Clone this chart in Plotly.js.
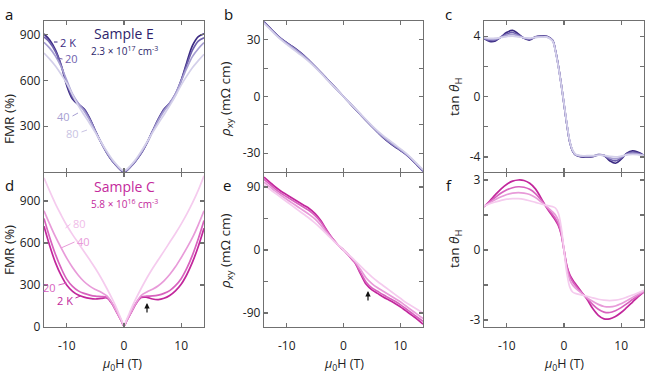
<!DOCTYPE html>
<html><head><meta charset="utf-8">
<script src="https://cdn.plot.ly/plotly-3.0.1.min.js"></script>
<style>html,body{margin:0;padding:0;background:#fff}#chart{width:646px;height:374px}</style>
</head><body><div id="chart"></div>
<script>
// Magnetic field grid (T)
const H = [-14,-13,-12,-11,-10,-9,-8,-7,-6,-5,-4,-3,-2,-1.5,-1,-0.5,0,0.5,1,1.5,2,3,4,5,6,7,8,9,10,11,12,13,14];
const temps = ['2 K','20 K','40 K','80 K'];

// (a) Sample E FMR (%)
const a2  = [905,865,800,700,565,478,442,415,352,268,192,125,70,48,28,10,2,10,28,48,70,122,190,268,346,412,450,505,600,720,830,888,906];
const a20 = [885,850,790,700,580,490,448,412,350,268,192,126,71,49,29,11,3,11,29,49,71,124,190,268,345,410,452,512,600,705,800,858,880];
const a40 = [850,812,760,690,600,510,450,402,340,265,193,128,74,52,32,14,5,14,32,52,74,127,193,265,338,400,450,512,595,682,758,808,848];
const a80 = [780,740,695,640,580,505,435,375,318,258,195,135,80,57,36,18,10,18,36,57,80,135,195,258,318,375,435,500,570,630,685,730,772];

// (b) Sample E rho_xy (mOhm cm)
const b2  = [39.6,36.5,33.4,30.6,28.5,26.5,24.3,21.8,18.9,15.9,12.8,9.6,6.4,4.8,3.2,1.6,0,-1.6,-3.2,-4.8,-6.4,-9.6,-12.8,-15.9,-18.9,-21.8,-24.3,-26.5,-28.5,-30.6,-33.4,-36.5,-39.6];
const b20 = [39.4,36.3,33.3,30.6,28.4,26.3,24.1,21.6,18.8,15.8,12.7,9.5,6.35,4.75,3.2,1.6,0,-1.6,-3.2,-4.75,-6.35,-9.5,-12.7,-15.8,-18.8,-21.6,-24.1,-26.3,-28.4,-30.6,-33.3,-36.3,-39.4];
const b40 = [39.2,36.1,33.1,30.4,28.1,26.0,23.8,21.4,18.7,15.7,12.6,9.45,6.3,4.7,3.15,1.58,0,-1.58,-3.15,-4.7,-6.3,-9.45,-12.6,-15.7,-18.7,-21.4,-23.8,-26.0,-28.1,-30.4,-33.1,-36.1,-39.2];
const b80 = [38.8,35.8,32.8,30.0,27.6,25.3,23.0,20.7,18.2,15.4,12.4,9.3,6.2,4.65,3.1,1.55,0,-1.55,-3.1,-4.65,-6.2,-9.3,-12.4,-15.4,-18.2,-20.7,-23.0,-25.3,-27.6,-30.0,-32.8,-35.8,-38.8];

// (c) Sample E tan(theta_H)
const c2  = [3.84,3.65,3.68,3.95,4.25,4.38,4.15,3.85,3.74,3.95,4.0,3.99,3.72,3.05,2.05,0.85,-0.5,-1.85,-3.0,-3.6,-3.87,-4.0,-4.0,-3.98,-3.85,-3.9,-4.25,-4.42,-4.15,-3.75,-3.6,-3.7,-3.9];
const c20 = [3.86,3.72,3.75,3.94,4.15,4.24,4.08,3.87,3.79,3.94,3.98,3.97,3.72,3.05,2.05,0.85,-0.5,-1.85,-3.0,-3.6,-3.86,-3.97,-3.97,-3.96,-3.87,-3.9,-4.15,-4.26,-4.08,-3.8,-3.69,-3.76,-3.9];
const c40 = [3.87,3.79,3.80,3.92,4.06,4.12,4.01,3.88,3.83,3.92,3.95,3.95,3.70,3.02,2.02,0.83,-0.48,-1.82,-2.97,-3.57,-3.84,-3.95,-3.95,-3.94,-3.88,-3.9,-4.06,-4.13,-4.01,-3.83,-3.77,-3.81,-3.9];
const c80 = [3.89,3.85,3.86,3.91,3.97,4.0,3.95,3.89,3.87,3.91,3.93,3.93,3.68,3.0,2.0,0.82,-0.45,-1.8,-2.93,-3.55,-3.82,-3.92,-3.92,-3.92,-3.89,-3.9,-3.97,-4.0,-3.95,-3.87,-3.84,-3.86,-3.9];

// (d) Sample C FMR (%)
const d2  = [720,580,460,368,298,255,228,213,204,200,204,208,160,122,85,47,8,47,85,122,160,210,212,200,196,205,225,258,305,375,465,575,705];
const d20 = [775,640,520,420,340,290,258,240,228,220,217,212,162,124,86,48,10,48,86,124,162,214,220,222,228,240,260,295,345,420,515,630,760];
const d40 = [830,735,645,565,490,425,370,325,292,268,248,222,165,126,87,48,10,48,87,126,165,225,250,270,295,330,375,430,495,565,640,730,830];
const d80 = [1065,970,880,800,725,660,600,540,480,418,350,275,195,152,105,57,14,57,105,152,195,275,350,418,480,542,605,668,735,808,888,978,1080];

// (e) Sample C rho_xy (mOhm cm)
const e2  = [104,97,90,84,79,74,69,64,59,52,42,29,17,12,7.5,3.5,0,-4,-8.5,-13.5,-18,-34,-49,-57,-62,-67,-71.5,-76,-81,-87,-93,-99,-106];
const e20 = [101,94,87,81,76,71,66,61,56,49,40,28,17,12,7.5,3.6,0,-4,-8.3,-13,-17.5,-32,-46,-54,-59,-64,-68.5,-73,-78,-84,-90,-96,-102];
const e40 = [97,90.5,84,78,72.5,67,61.5,56,50.5,44,35.5,25.5,16,11.5,7.5,3.7,0,-3.8,-8,-12.2,-16.5,-28,-40,-48,-54,-59,-64,-69,-74,-80,-86,-92,-98];
const e80 = [93,87,81,75,69,63,57,51,45,38.5,31,23,15,11,7.5,3.7,0,-3.7,-7.5,-11,-15,-23,-31,-38.5,-45,-51,-57,-63,-69,-75,-80,-85,-90];

// (f) Sample C tan(theta_H)
const f2  = [1.85,2.1,2.37,2.62,2.82,2.95,3.0,2.98,2.86,2.62,2.22,1.8,1.45,1.27,1.05,0.68,0,-0.68,-1.05,-1.27,-1.45,-1.78,-2.1,-2.5,-2.8,-2.95,-2.95,-2.85,-2.68,-2.46,-2.23,-2.0,-1.8];
const f20 = [1.86,2.06,2.26,2.44,2.58,2.67,2.71,2.69,2.6,2.42,2.14,1.82,1.52,1.35,1.12,0.72,0,-0.72,-1.12,-1.35,-1.52,-1.8,-2.06,-2.33,-2.54,-2.66,-2.68,-2.6,-2.47,-2.3,-2.12,-1.95,-1.79];
const f40 = [1.87,2.02,2.16,2.28,2.38,2.44,2.46,2.44,2.38,2.25,2.06,1.85,1.63,1.5,1.27,0.82,0,-0.82,-1.27,-1.5,-1.63,-1.84,-2.04,-2.2,-2.33,-2.42,-2.44,-2.4,-2.3,-2.17,-2.03,-1.9,-1.77];
const f80 = [1.88,1.98,2.06,2.13,2.18,2.2,2.2,2.17,2.11,2.04,1.97,1.91,1.86,1.8,1.58,1.0,0,-1.0,-1.58,-1.8,-1.86,-1.92,-1.98,-2.05,-2.11,-2.15,-2.17,-2.15,-2.1,-2.02,-1.93,-1.83,-1.73];

const colE = ['#3b2a82','#6e60ad','#a79fd2','#d4d0ea'];
const colC = ['#c2279c','#d862be','#e89bd9','#f5cbee'];

const W = 646, Hh = 374;
const px = x => x / W, py = y => 1 - y / Hh;

const traces = [];
function addPanel(series, cols, xa, ya) {
  for (let i = 0; i < series.length; i++) {
    traces.push({x: H, y: series[i], xaxis: xa, yaxis: ya, type: 'scatter', mode: 'lines', name: temps[i],
      line: {color: cols[i], width: 1.7, shape: 'spline', smoothing: 1}, hoverinfo: 'skip'});
  }
}
addPanel([a2,a20,a40,a80], colE, 'x', 'y');
addPanel([b2,b20,b40,b80], colE, 'x2', 'y2');
addPanel([c2,c20,c40,c80], colE, 'x3', 'y3');
addPanel([d2,d20,d40,d80], colC, 'x4', 'y4');
addPanel([e2,e20,e40,e80], colC, 'x5', 'y5');
addPanel([f2,f20,f40,f80], colC, 'x6', 'y6');

const font = 'Open Sans, Noto Sans, sans-serif';
const axBase = {showline: true, mirror: 'ticks', linecolor: '#707070', linewidth: 1.2, ticks: 'inside', ticklen: 4,
  tickcolor: '#707070', tickwidth: 1.2, showgrid: false, zeroline: false,
  tickfont: {family: font, size: 12, color: '#222'}};
const colDom = [[44/W, 204/W], [264/W, 423/W], [484/W, 644/W]];
const rowDom = [[py(172), py(21)], [py(327), py(173)]];

function xax(c, r) {
  return Object.assign({}, axBase, {domain: colDom[c], anchor: 'y' + (r*3 + c + 1 === 1 ? '' : (r*3 + c + 1)),
    range: [-14, 14], tickvals: [-10, 0, 10], ticktext: ['-10', '0', '10'], showticklabels: r === 1, ticklabelstandoff: 7});
}
function yax(c, r, range, tv, tt, minorVals) {
  const o = Object.assign({}, axBase, {domain: rowDom[r], anchor: 'x' + (r*3 + c + 1 === 1 ? '' : (r*3 + c + 1)),
    range: range, tickvals: tv, ticktext: tt});
  if (minorVals) o.minor = {tickvals: minorVals, ticks: 'inside', ticklen: 4, tickcolor: '#707070', tickwidth: 1.2, showgrid: false};
  return o;
}

const layout = {
  width: W, height: Hh, margin: {l: 0, r: 0, t: 0, b: 0}, showlegend: false,
  paper_bgcolor: '#fff', plot_bgcolor: '#fff', font: {family: font, color: '#222'},
  xaxis: xax(0, 0), xaxis2: xax(1, 0), xaxis3: xax(2, 0),
  xaxis4: xax(0, 1), xaxis5: xax(1, 1), xaxis6: xax(2, 1),
  yaxis: yax(0, 0, [0, 990], [300, 600, 900], ['300', '600', '900']),
  yaxis2: yax(1, 0, [-40, 40], [-30, 0, 30], ['-30', '0', '30'], [-15, 15]),
  yaxis3: yax(2, 0, [-5, 5], [-4, 0, 4], ['-4', '0', '4'], [-2, 2]),
  yaxis4: yax(0, 1, [0, 1100], [0, 300, 600, 900], ['0', '300', '600', '900']),
  yaxis5: yax(1, 1, [-110, 110], [-90, 0, 90], ['-90', '0', '90'], [-45, 45]),
  yaxis6: yax(2, 1, [-3.3, 3.3], [-3, 0, 3], ['-3', '0', '3'], [-1.5, 1.5]),
  annotations: [], shapes: []
};

const ann = layout.annotations, shp = layout.shapes;
function txt(x, y, t, size, color, opts) {
  ann.push(Object.assign({xref: 'paper', yref: 'paper', x: px(x), y: py(y), text: t, showarrow: false,
    font: {family: font, size: size, color: color}, xanchor: 'center', yanchor: 'middle'}, opts || {}));
}
function lead(x0, y0, x1, y1, color) {
  shp.push({type: 'line', xref: 'paper', yref: 'paper', x0: px(x0), y0: py(y0), x1: px(x1), y1: py(y1),
    line: {color: color, width: 1}});
}
// panel letters
[['a', 9, 14], ['b', 228, 14], ['c', 448, 14], ['d', 9, 185], ['e', 227, 185], ['f', 449, 185]]
  .forEach(p => txt(p[1], p[2], p[0], 15, '#111'));
// y titles
txt(9, 119, 'FMR (%)', 13.5, '#222', {textangle: -90});
txt(9, 250, 'FMR (%)', 13.5, '#222', {textangle: -90});
txt(226, 100, '<i>ρ</i><sub>xy</sub> (mΩ cm)', 13.5, '#222', {textangle: -90});
txt(226, 252, '<i>ρ</i><sub>xy</sub> (mΩ cm)', 13.5, '#222', {textangle: -90});
txt(455, 97, 'tan <i>θ</i><sub>H</sub>', 13.5, '#222', {textangle: -90});
txt(455, 249, 'tan <i>θ</i><sub>H</sub>', 13.5, '#222', {textangle: -90});
// x titles
[122, 344, 564].forEach(x => txt(x, 364, '<i>μ</i><sub>0</sub>H (T)', 12.5, '#222'));
// sample labels
txt(124, 33, 'Sample E', 14, '#2e1f6b');
txt(124, 51, '2.3 × 10<sup>17</sup> cm<sup>-3</sup>', 10, '#2e1f6b');
txt(124, 186, 'Sample C', 14, '#c42a9c');
txt(124, 204, '5.8 × 10<sup>16</sup> cm<sup>-3</sup>', 10, '#c42a9c');
// temperature labels, panel a
txt(58, 42, '2 K', 11, colE[0], {xanchor: 'left'}); lead(54, 42, 57.5, 42, colE[0]);
txt(63, 59, '20', 11, colE[1], {xanchor: 'left'}); lead(57, 58, 62.5, 59, colE[1]);
txt(72, 117, '40', 11, colE[2], {xanchor: 'right'}); lead(72.5, 116, 78, 113, colE[2]);
txt(81, 133, '80', 11, '#c9c4e3', {xanchor: 'right'}); lead(81.5, 132, 87, 130, '#c9c4e3');
// temperature labels, panel d
txt(71, 223, '80', 11, '#f0bde8', {xanchor: 'left'}); lead(65.5, 228, 70.5, 224, '#f0bde8');
txt(75, 241, '40', 11, colC[2], {xanchor: 'left'}); lead(61, 248, 74.5, 242, colC[2]);
txt(58, 287, '20', 11, colC[1], {xanchor: 'right'}); lead(58.5, 285, 66.5, 283, colC[1]);
txt(75, 300, '2 K', 11, colC[0], {xanchor: 'right'}); lead(75.5, 298, 80.5, 296, colC[0]);
// arrows
ann.push({xref: 'paper', yref: 'paper', x: px(147), y: py(303), ax: 0, ay: 11, text: '', showarrow: true,
  arrowhead: 2, arrowsize: 0.9, arrowwidth: 1.2, arrowcolor: '#111'});
ann.push({xref: 'paper', yref: 'paper', x: px(368), y: py(291), ax: 0, ay: 11, text: '', showarrow: true,
  arrowhead: 2, arrowsize: 0.9, arrowwidth: 1.2, arrowcolor: '#111'});

Plotly.newPlot('chart', traces, layout, {staticPlot: true, displayModeBar: false});
</script></body></html>
